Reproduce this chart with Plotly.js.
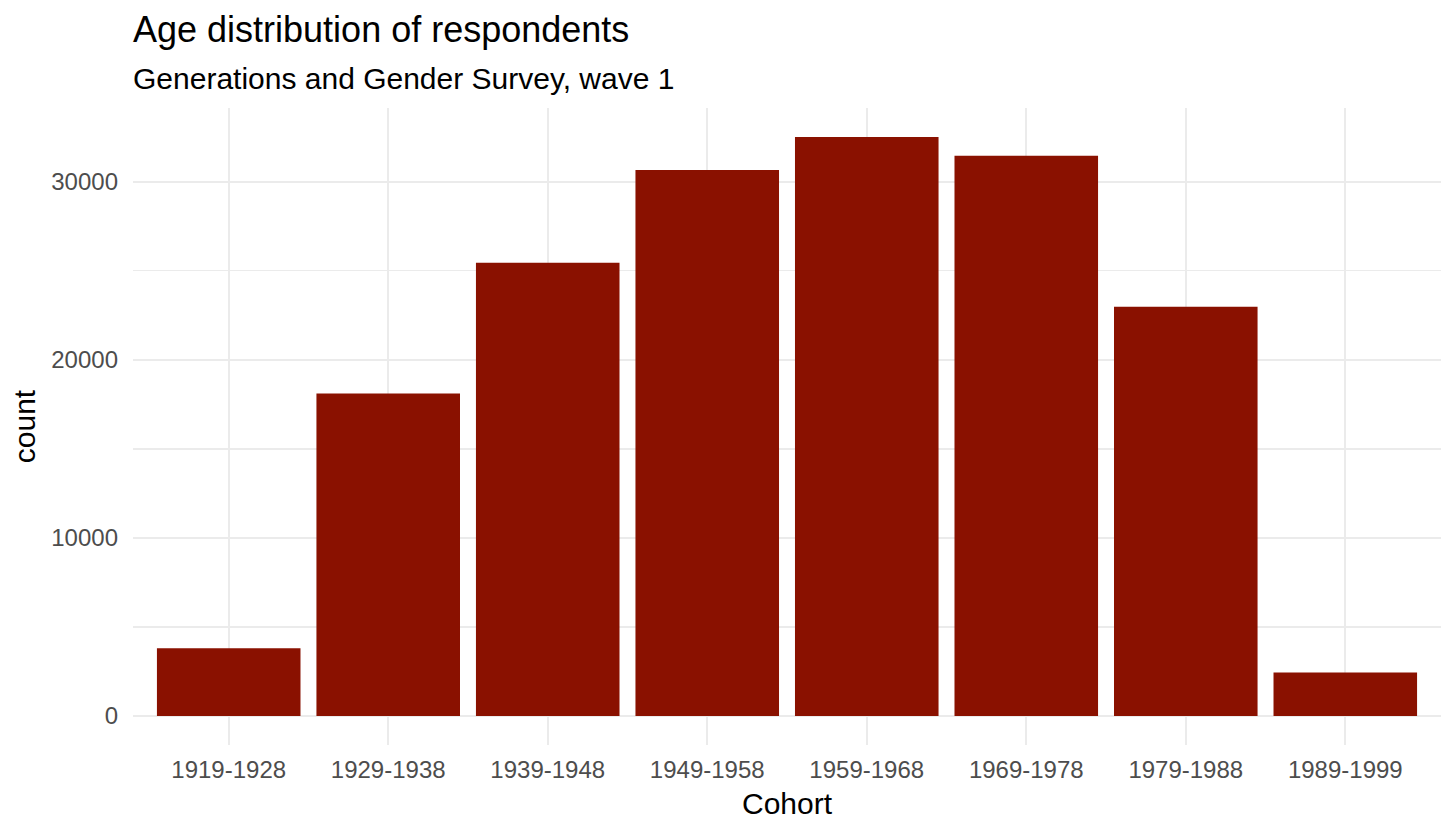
<!DOCTYPE html>
<html>
<head>
<meta charset="utf-8">
<script src="https://cdn.plot.ly/plotly-3.0.1.min.js"></script>
<style>
  html, body { margin: 0; padding: 0; background: #fff; }
  #age_chart { width: 1456px; height: 832px; }
</style>
</head>
<body>
<div id="age_chart"></div>
<script>
var cohorts = ["1919-1928", "1929-1938", "1939-1948", "1949-1958",
               "1959-1968", "1969-1978", "1979-1988", "1989-1999"];
var counts = [3800, 18110, 25450, 30660, 32510, 31460, 22980, 2450];

var trace1 = {
    x: cohorts,
    y: counts,
    type: 'bar',
    marker: {
        color: '#8a1100',
        line: { width: 0 }
    },
    hovertemplate: "%{x}<br>count: %{y}<extra></extra>"
};

var layout = {
    width: 1456,
    height: 832,
    font: { family: 'Liberation Sans, Arial, sans-serif', color: '#000' },
    paper_bgcolor: '#fff',
    plot_bgcolor: '#fff',
    margin: { t: 108, l: 133, r: 15, b: 87, pad: 0 },
    showlegend: false,
    bargap: 0.1,
    title: {
        text: 'Age distribution of respondents',
        font: { size: 36, color: '#000' },
        x: 133 / 1456,
        xref: 'container',
        xanchor: 'left',
        y: 1 - 17 / 832,
        yref: 'container',
        yanchor: 'top'
    },
    // subtitle as annotation so the gap to the title can be set
    annotations: [{
        text: 'Generations and Gender Survey, wave 1',
        font: { size: 30, color: '#000' },
        xref: 'paper',
        yref: 'paper',
        x: 0,
        xanchor: 'left',
        y: 1.047,
        yanchor: 'middle',
        showarrow: false,
        xshift: -2
    }],
    xaxis: {
        range: [-0.6, 7.6],
        showgrid: true,
        gridcolor: '#ebebeb',
        gridwidth: 2.4,
        zeroline: false,
        showline: false,
        ticks: '',
        ticklabelstandoff: 8,
        tickfont: { size: 24, color: '#4d4d4d' },
        title: {
            text: 'Cohort',
            font: { size: 30, color: '#000' },
            standoff: 10
        }
    },
    yaxis: {
        range: [-1626, 34140],
        tick0: 0,
        dtick: 10000,
        tickformat: 'd',
        showgrid: true,
        gridcolor: '#ebebeb',
        gridwidth: 2.4,
        zeroline: false,
        showline: false,
        ticks: '',
        ticklabelstandoff: 14,
        tickfont: { size: 24, color: '#4d4d4d' },
        minor: {
            dtick: 5000,
            tick0: 0,
            showgrid: true,
            gridcolor: '#ebebeb',
            gridwidth: 1.3
        },
        title: {
            text: 'count',
            font: { size: 30, color: '#000' },
            standoff: 6
        }
    }
};

Plotly.newPlot('age_chart', [trace1], layout, {displayModeBar: false, staticPlot: true});
</script>
</body>
</html>
